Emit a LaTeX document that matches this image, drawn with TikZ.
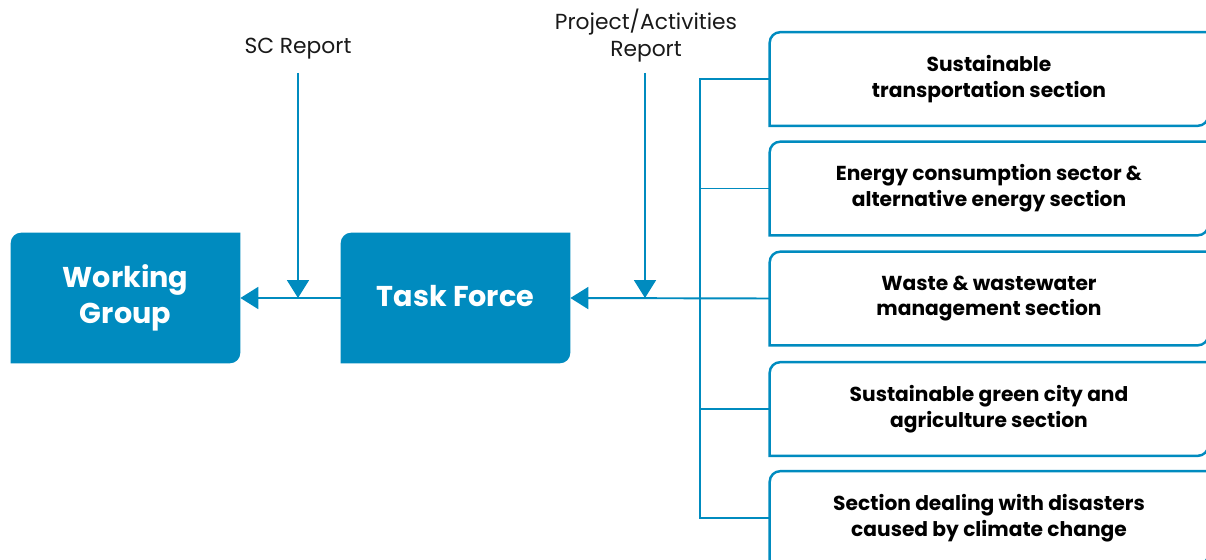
\documentclass[tikz,border=0pt]{standalone}
\usepackage{fontspec}
\setmainfont{Poppins}
\usetikzlibrary{arrows.meta,backgrounds}
\definecolor{tfblue}{RGB}{0,139,191}
\definecolor{ink}{RGB}{25,25,25}

\begin{document}
\begin{tikzpicture}[x=0.02cm,y=-0.02cm,
  line/.style={draw=tfblue,line width=1.1pt},
  arr/.style={line,-{Triangle[length=0.36cm,width=0.44cm]}},
  core/.style={minimum width=4.58cm,minimum height=2.6cm,align=center,text=white,font=\fontsize{16.3}{19.8}\selectfont\bfseries},
  section/.style={minimum width=8.76cm,minimum height=1.86cm,align=center,text=black,font=\fontsize{11.5}{14.7}\selectfont\bfseries},
  report/.style={align=center,text=ink,font=\fontsize{12.4}{15.3}\selectfont}]
\useasboundingbox (0,0) rectangle (1206,560);
\node[core] (wg) at (125.5,298) {\raisebox{1pt}{Working}\\Group};
\node[core] (tf) at (455.5,298) {\raisebox{2.8pt}{Task Force}};
\node[report] (sc) at (298,49) {SC Report};
\node[report] (pa) at (646,36) {Project/Activities\\Report};
\node[section] (s1) at (989,79) {Sustainable\\transportation section};
\node[section] (s2) at (989,188.5) {Energy consumption sector \&\\alternative energy section};
\node[section] (s3) at (989,298.5) {Waste \& wastewater\\management section};
\node[section] (s4) at (989,409) {Sustainable green city and\\agriculture section};
\node[section] (s5) at (989,518) {Section dealing with disasters\\caused by climate change};
\coordinate (sctop) at (298,73);
\coordinate (patop) at (645,73);
\coordinate (bus) at (700,298);
% box outlines, rounded top left and bottom right
\begin{scope}[on background layer]
\foreach \n in {wg,tf}
  \fill[tfblue] (\n.south west) [rounded corners=6pt] -- (\n.north west) [sharp corners] -- (\n.north east) [rounded corners=6pt] -- (\n.south east) [sharp corners] -- cycle;
\foreach \n in {s1,s2,s3,s4,s5}
  \draw[tfblue,line width=1.4pt] (\n.south west) [rounded corners=6pt] -- (\n.north west) [sharp corners] -- (\n.north east) [rounded corners=6pt] -- (\n.south east) [sharp corners] -- cycle;
\end{scope}
% connectors
\draw[arr] (tf.west) -- (wg.east);
\draw[arr] (sctop) -- (sctop |- wg.east);
\draw[arr] (s3.west) -- (tf.east);
\draw[arr] (patop) -- (patop |- tf.east);
\draw[line] (s1.west) -- (s1.west -| bus) -- (s5.west -| bus) -- (s5.west);
\foreach \n in {s2,s4}
  \draw[line] (\n.west) -- (\n.west -| bus);
\end{tikzpicture}
\end{document}
